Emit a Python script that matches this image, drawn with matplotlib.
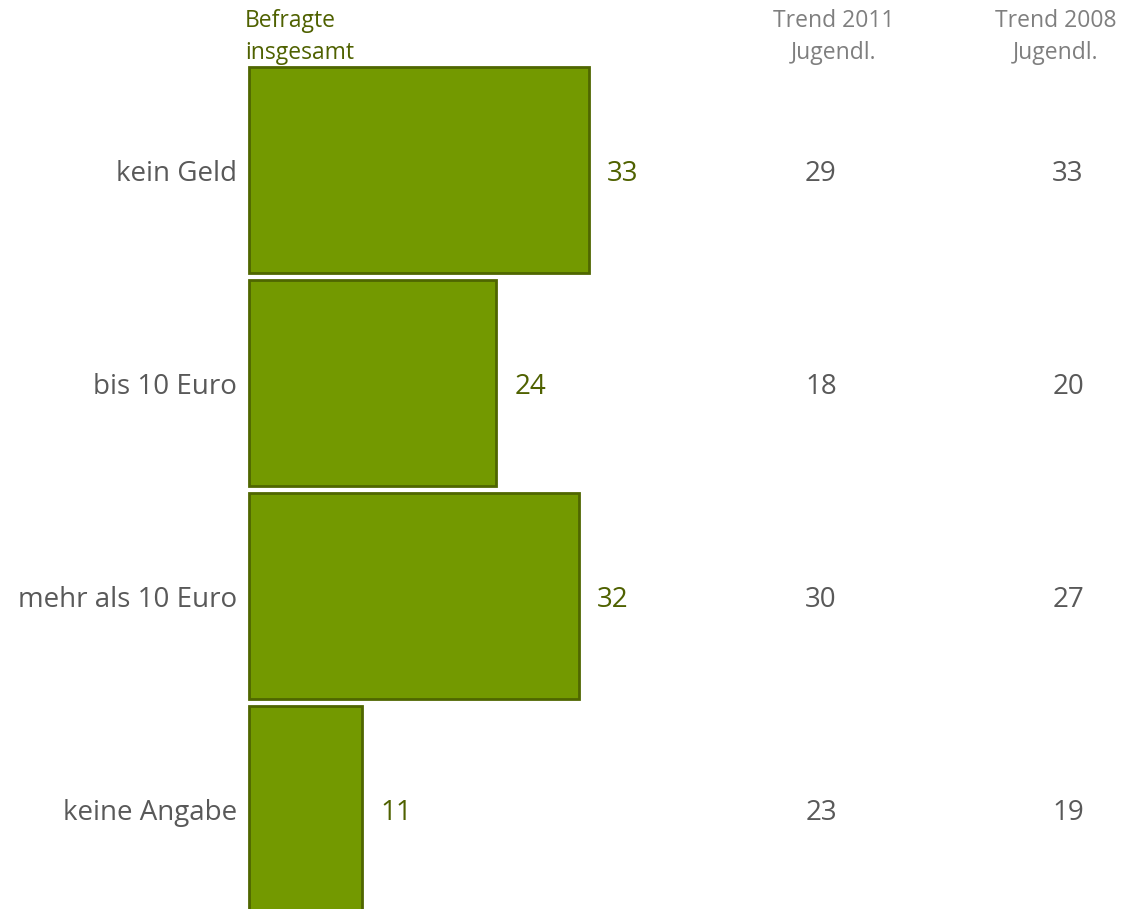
import matplotlib
matplotlib.use("Agg")
import matplotlib.pyplot as plt

plt.rcParams['font.family'] = ['Open Sans', 'DejaVu Sans']

categories = ["kein Geld", "bis 10 Euro", "mehr als 10 Euro", "keine Angabe"]
befragte_insgesamt = [33, 24, 32, 11]
trend_2011 = [29, 18, 30, 23]
trend_2008 = [33, 20, 27, 19]

W, H = 1124, 909
fig = plt.figure(figsize=(W / 100, H / 100), dpi=100)
ax = fig.add_axes([0, 0, 1, 1])

# pixel geometry of the data area
x0_px = 249.0
px_per_unit = 10.3
row0_px = 170.0
row_step_px = 213.0

ax.set_xlim(-x0_px / px_per_unit, (W - x0_px) / px_per_unit)
ax.set_ylim((H - row0_px) / row_step_px, -row0_px / row_step_px)
ax.axis("off")

bar_fill = "#739900"
bar_edge = "#4F6600"
value_col = "#4F6100"
label_col = "#595959"
head_col = "#7F7F7F"

ypos = list(range(len(categories)))
ax.barh(ypos, befragte_insgesamt, height=0.965, left=0,
        color=bar_fill, edgecolor=bar_edge, linewidth=2)

def px_to_x(px):
    return (px - x0_px) / px_per_unit

def py_to_y(py):
    return (py - row0_px) / row_step_px

dy = 4 / row_step_px  # small downward nudge so digits sit on the row centre

for y, cat, v, t11, t08 in zip(ypos, categories, befragte_insgesamt, trend_2011, trend_2008):
    ax.text(px_to_x(237), y + dy, cat, ha="right", va="center", fontsize=20, color=label_col)
    ax.text(v + 18 / px_per_unit, y + dy, str(v), ha="left", va="center", fontsize=20, color=value_col)
    ax.text(px_to_x(821), y + dy, str(t11), ha="center", va="center", fontsize=20, color=label_col)
    ax.text(px_to_x(1068), y + dy, str(t08), ha="center", va="center", fontsize=20, color=label_col)

ax.text(px_to_x(245), py_to_y(37), "Befragte\ninsgesamt", ha="left", va="center",
        fontsize=16.5, color=value_col, linespacing=1.45)
ax.text(px_to_x(834), py_to_y(37), "Trend 2011\nJugendl.", ha="center", va="center",
        fontsize=16.5, color=head_col, linespacing=1.45)
ax.text(px_to_x(1056), py_to_y(37), "Trend 2008\nJugendl.", ha="center", va="center",
        fontsize=16.5, color=head_col, linespacing=1.45)

fig.savefig("out.png", dpi=100)
